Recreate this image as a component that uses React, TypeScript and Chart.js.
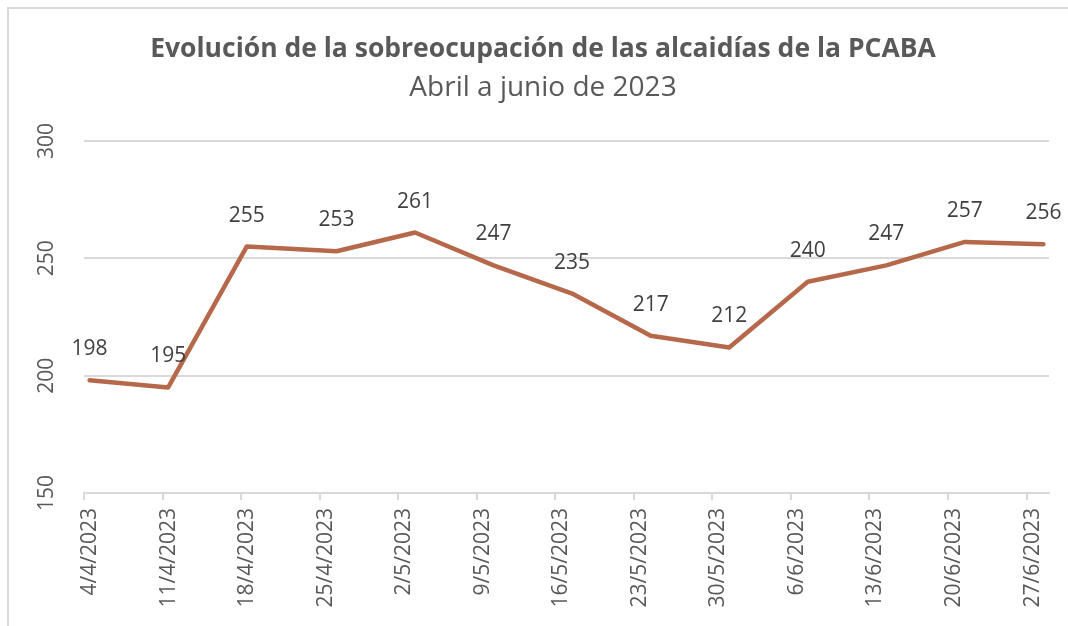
import React, { useEffect, useRef } from "react";
import { Chart, registerables } from "chart.js";

Chart.register(...registerables);

const titleText = "Evolución de la sobreocupación de las alcaidías de la PCABA";
const subtitleText = "Abril a junio de 2023";

const tickLabels = [
  "4/4/2023", "11/4/2023", "18/4/2023", "25/4/2023", "2/5/2023", "9/5/2023", "16/5/2023",
  "23/5/2023", "30/5/2023", "6/6/2023", "13/6/2023", "20/6/2023", "27/6/2023",
];

const dates = [
  "4/4/2023", "11/4/2023", "18/4/2023", "26/4/2023", "3/5/2023", "10/5/2023", "17/5/2023",
  "24/5/2023", "31/5/2023", "7/6/2023", "14/6/2023", "21/6/2023", "28/6/2023",
];

const values = [198, 195, 255, 253, 261, 247, 235, 217, 212, 240, 247, 257, 256];

const yTicks = [150, 200, 250, 300];

const FONT = "'Open Sans', 'Noto Sans', sans-serif";
const LINE = "#B6684B";
const AXIS_TEXT = "#595959";
const LABEL_TEXT = "#404040";
const GRID = "#d9d9d9";

function parseDMY(s: string): number {
  const [d, m, y] = s.split("/").map(Number);
  return Date.UTC(y, m - 1, d);
}
const origin = parseDMY(tickLabels[0]);
const dayOf = (s: string) => Math.round((parseDMY(s) - origin) / 86400000);

const framePlugin = {
  id: "frame",
  beforeDraw(chart: any) {
    const ctx = chart.ctx;
    ctx.save();
    ctx.fillStyle = "#ffffff";
    ctx.fillRect(0, 0, chart.width, chart.height);
    ctx.strokeStyle = GRID;
    ctx.lineWidth = 2;
    ctx.strokeRect(8, 8, chart.width + 50, chart.height + 50);
    ctx.restore();
  },
};

const dataLabelPlugin = {
  id: "dataLabels",
  afterDatasetsDraw(chart: any) {
    const ctx = chart.ctx;
    const meta = chart.getDatasetMeta(0);
    ctx.save();
    ctx.font = `21px ${FONT}`;
    ctx.fillStyle = LABEL_TEXT;
    ctx.textAlign = "center";
    ctx.textBaseline = "middle";
    meta.data.forEach((pt: any, i: number) => {
      ctx.fillText(String(values[i]), pt.x, pt.y - 31);
    });
    ctx.restore();
  },
};

export default function App() {
  const ref = useRef<HTMLCanvasElement | null>(null);

  useEffect(() => {
    if (!ref.current) return;
    const points = dates.map((d, i) => ({ x: dayOf(d) + 0.5, y: values[i] }));
    const xMax = dayOf(dates[dates.length - 1]) + 1;
    const chart = new Chart(ref.current, {
      type: "line",
      data: {
        datasets: [
          {
            data: points,
            borderColor: LINE,
            borderWidth: 4.5,
            pointRadius: 0,
            tension: 0,
            borderCapStyle: "round",
            borderJoinStyle: "round",
          },
        ],
      },
      options: {
        animation: false,
        responsive: true,
        maintainAspectRatio: false,
        layout: { padding: { top: 10, left: 37, right: 37, bottom: 0 } },
        plugins: {
          legend: { display: false },
          tooltip: { enabled: false },
          title: {
            display: true,
            text: titleText,
            color: AXIS_TEXT,
            font: { family: FONT, size: 26.5, weight: "bold" },
            padding: { top: 24, bottom: 0 },
          },
          subtitle: {
            display: true,
            text: subtitleText,
            color: AXIS_TEXT,
            font: { family: FONT, size: 28, weight: "normal" },
            padding: { top: 5.4, bottom: 36.2 },
          },
        },
        scales: {
          x: {
            type: "linear",
            min: 0,
            max: xMax,
            afterBuildTicks: (scale: any) => {
              scale.ticks = tickLabels.map((t) => ({ value: dayOf(t) }));
            },
            afterFit: (scale: any) => {
              scale.height = 133;
            },
            ticks: {
              autoSkip: false,
              minRotation: 90,
              maxRotation: 90,
              padding: 8,
              labelOffset: 6,
              color: AXIS_TEXT,
              font: { family: FONT, size: 21 },
              callback: (_v: any, i: number) => tickLabels[i],
            },
            grid: {
              drawOnChartArea: false,
              drawTicks: true,
              tickLength: 7,
              color: GRID,
              lineWidth: 2,
            },
            border: { display: true, color: GRID, width: 2 },
          },
          y: {
            min: yTicks[0],
            max: yTicks[yTicks.length - 1],
            afterBuildTicks: (scale: any) => {
              scale.ticks = yTicks.map((v) => ({ value: v }));
            },
            afterFit: (scale: any) => {
              scale.width = 47;
            },
            ticks: {
              minRotation: 90,
              maxRotation: 90,
              crossAlign: "center",
              padding: 19,
              color: AXIS_TEXT,
              font: { family: FONT, size: 21 },
            },
            grid: { drawTicks: false, color: GRID, lineWidth: 2 },
            border: { display: false },
          },
        },
      },
      plugins: [framePlugin, dataLabelPlugin],
    });
    return () => chart.destroy();
  }, []);

  return (
    <div
      style={{
        position: "fixed",
        left: 0,
        top: 0,
        width: 1068,
        height: 626,
        overflow: "hidden",
        background: "#fff",
      }}
    >
      <div style={{ width: 1086, height: 626, position: "relative" }}>
        <canvas ref={ref} />
      </div>
    </div>
  );
}
